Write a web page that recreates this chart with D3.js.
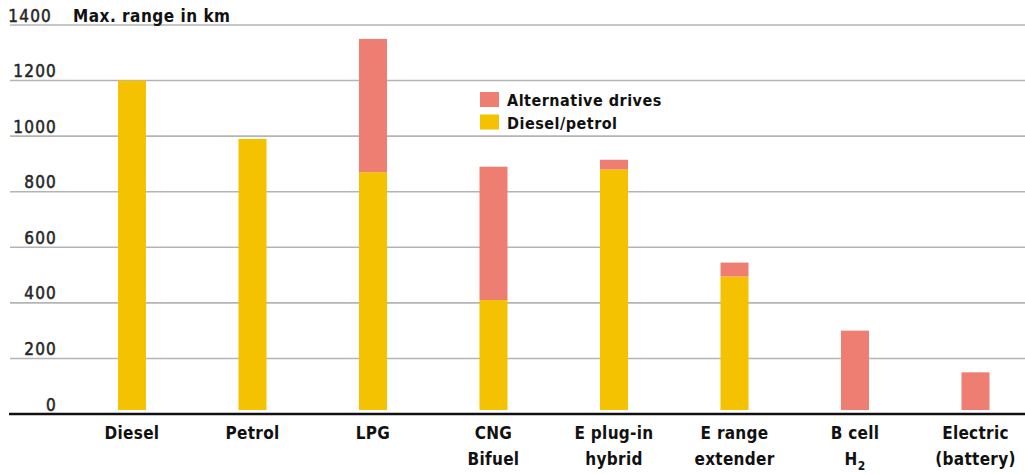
<!DOCTYPE html>
<html>
<head>
<meta charset="utf-8">
<script src="https://cdn.jsdelivr.net/npm/d3@7"></script>
<style>
  html, body { margin: 0; padding: 0; background: #fff; }
  svg { display: block; }
  text { font-family: "DejaVu Sans Condensed", "DejaVu Sans", "Liberation Sans", sans-serif; }
</style>
</head>
<body>
<svg id="chart" width="1025" height="474"></svg>
<script>
// Vehicle types, each with one or two label lines
const categories = ["Diesel", "Petrol", "LPG", "CNG Bifuel", "E plug-in hybrid", "E range extender", "B cell H2", "Electric (battery)"];
const categoryLines = [["Diesel"], ["Petrol"], ["LPG"], ["CNG", "Bifuel"], ["E plug-in", "hybrid"], ["E range", "extender"], ["B cell", "H2"], ["Electric", "(battery)"]];
// Range on conventional fuel (km)
const dieselPetrol = [1200, 990, 870, 410, 880, 495, 0, 0];
// Additional range from the alternative drive (km)
const alternative = [0, 0, 480, 480, 35, 50, 300, 150];
const yTicks = [0, 200, 400, 600, 800, 1000, 1200, 1400];
const seriesNames = ["Alternative drives", "Diesel/petrol"];
const colors = { "Diesel/petrol": "#F4C200", "Alternative drives": "#EE7E72" };

const svg = d3.select("#chart");
const W = 1025;

const x = d3.scalePoint().domain(categories).range([132, 975.5]);
const y = d3.scaleLinear().domain([0, 1400]).range([414, 25]);
const barW = 28;
const barGap = 4; // bars stop just short of the axis line

// Gridlines and value labels
svg.append("g").selectAll("line").data(yTicks.filter(d => d > 0)).join("line")
  .attr("x1", 10).attr("x2", W)
  .attr("y1", d => y(d)).attr("y2", d => y(d))
  .attr("stroke", "#b4b4b4").attr("stroke-width", 1.6);

svg.append("g").selectAll("text").data(yTicks).join("text")
  .attr("x", d => d === 1400 ? 52 : 57)
  .attr("y", d => y(d) - 3.5)
  .attr("text-anchor", "end")
  .attr("font-size", 17)
  .attr("letter-spacing", 1.2)
  .attr("fill", "#262626")
  .attr("stroke", "#262626").attr("stroke-width", 0.5)
  .text(d => d);

// Stacked bars
const rows = categories.map((c, i) => ({ cat: c, "Diesel/petrol": dieselPetrol[i], "Alternative drives": alternative[i] }));
const stack = d3.stack().keys(["Diesel/petrol", "Alternative drives"])(rows);

svg.append("g").selectAll("g").data(stack).join("g")
  .attr("fill", s => colors[s.key])
  .selectAll("rect").data(s => s.filter(d => d[1] > d[0])).join("rect")
  .attr("x", d => x(d.data.cat) - barW / 2)
  .attr("width", barW)
  .attr("y", d => y(d[1]))
  .attr("height", d => (d[0] === 0 ? y(d[0]) - barGap : y(d[0])) - y(d[1]));

// Baseline
svg.append("line")
  .attr("x1", 9).attr("x2", W)
  .attr("y1", y(0)).attr("y2", y(0))
  .attr("stroke", "#111").attr("stroke-width", 2.6);

// Category labels
const cl = svg.append("g").selectAll("text").data(categories).join("text")
  .attr("x", d => x(d))
  .attr("text-anchor", "middle")
  .attr("font-size", 17)
  .attr("font-weight", "bold")
  .attr("letter-spacing", 0.3)
  .attr("fill", "#111");
cl.each(function (d, i) {
  const t = d3.select(this);
  categoryLines[i].forEach((line, j) => {
    const ts = t.append("tspan").attr("x", x(d)).attr("y", 439 + j * 26);
    if (line === "H2") {
      ts.text("H");
      t.append("tspan").attr("dy", 5).attr("font-size", 12).text("2");
    } else {
      ts.text(line);
    }
  });
});

// Axis title
svg.append("text")
  .attr("x", 73).attr("y", 22)
  .attr("font-size", 17)
  .attr("font-weight", "bold")
  .attr("letter-spacing", 0.5)
  .attr("fill", "#111")
  .text("Max. range in km");

// Legend
const legend = svg.append("g").attr("transform", "translate(480,92)");
const li = legend.selectAll("g").data(seriesNames).join("g")
  .attr("transform", (d, i) => `translate(0,${i * 22.5})`);
li.append("rect").attr("width", 19).attr("height", 15).attr("fill", d => colors[d]);
li.append("text").attr("x", 27).attr("y", 14)
  .attr("font-size", 16).attr("font-weight", "bold").attr("fill", "#111")
  .attr("letter-spacing", 0.5)
  .text(d => d);
</script>
</body>
</html>
